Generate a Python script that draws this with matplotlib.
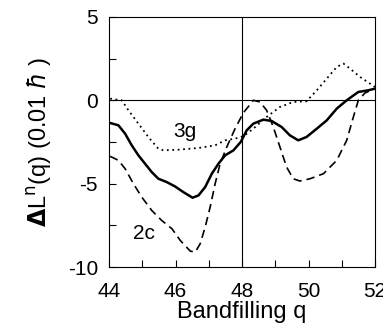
import matplotlib
matplotlib.use("Agg")
import matplotlib.pyplot as plt
from matplotlib.ticker import MultipleLocator

plt.rcParams['font.family'] = ['Liberation Sans', 'DejaVu Sans']
plt.rcParams['axes.unicode_minus'] = False

# solid curve (total)
q_solid = [44.03, 44.28, 44.48, 44.68, 44.88, 45.08, 45.28, 45.48, 45.73, 45.98,
           46.23, 46.51, 46.69, 46.89, 47.09, 47.29, 47.49, 47.74, 47.96, 48.14,
           48.34, 48.64, 48.89, 49.19, 49.44, 49.69, 49.94, 50.25, 50.55, 50.85,
           51.15, 51.5, 51.8, 52.0]
dl_solid = [-1.36, -1.5, -2.0, -2.7, -3.3, -3.8, -4.3, -4.7, -4.9, -5.16,
            -5.5, -5.84, -5.7, -5.2, -4.4, -3.8, -3.3, -3.0, -2.5, -1.8,
            -1.4, -1.16, -1.24, -1.6, -2.1, -2.4, -2.2, -1.7, -1.2, -0.5,
            0.0, 0.5, 0.6, 0.7]

# dashed curve (2c)
q_2c = [44.03, 44.28, 44.48, 44.73, 44.98, 45.28, 45.58, 45.89, 46.14, 46.44,
        46.59, 46.74, 46.89, 47.04, 47.19, 47.34, 47.54, 47.79, 48.04, 48.34,
        48.54, 48.74, 48.94, 49.14, 49.34, 49.54, 49.74, 50.05, 50.45, 50.85,
        51.15, 51.35, 51.5, 51.7, 52.0]
dl_2c = [-3.36, -3.6, -4.1, -5.0, -5.8, -6.6, -7.2, -7.7, -8.4, -9.04,
         -9.1, -8.6, -7.6, -6.4, -5.0, -3.8, -2.8, -1.7, -0.75, 0.0,
         -0.1, -0.6, -1.6, -2.8, -4.0, -4.7, -4.84, -4.7, -4.4, -3.6,
         -2.4, -1.0, 0.0, 0.44, 0.7]

# dotted curve (3g)
q_3g = [44.03, 44.38, 44.58, 44.88, 45.18, 45.48, 45.63, 46.08, 46.69, 47.19,
        47.49, 47.79, 48.04, 48.34, 48.74, 49.14, 49.54, 49.94, 50.25, 50.55,
        50.85, 51.05, 51.25, 51.55, 52.0]
dl_3g = [0.1, 0.0, -0.6, -1.4, -2.2, -2.9, -3.0, -2.96, -2.86, -2.7,
         -2.4, -2.3, -2.15, -1.7, -1.0, -0.4, -0.1, -0.06, 0.6, 1.3,
         2.0, 2.2, 1.9, 1.4, 0.8]

fig = plt.figure(figsize=(3.83, 3.31), dpi=100)
ax = fig.add_axes([0.285, 0.193, 0.694, 0.756])

ax.axhline(0, color='black', lw=0.8)
ax.axvline(48, color='black', lw=0.8)

ax.plot(q_solid, dl_solid, color='black', lw=1.8)
ax.plot(q_2c, dl_2c, color='black', lw=1.2, ls=(0, (5, 3)))
ax.plot(q_3g, dl_3g, color='black', lw=1.3, ls=(0, (1, 2)))

ax.text(46.28, -1.9, '3g', fontsize=15, ha='center', va='center')
ax.text(45.05, -8.0, '2c', fontsize=15, ha='center', va='center')

ax.set_xlim(44, 52)
ax.set_ylim(-10, 5)
ax.xaxis.set_major_locator(MultipleLocator(2))
ax.xaxis.set_minor_locator(MultipleLocator(1))
ax.yaxis.set_major_locator(MultipleLocator(5))
ax.yaxis.set_minor_locator(MultipleLocator(2.5))
ax.tick_params(which='both', direction='in', labelsize=15, width=0.8)
ax.tick_params(which='major', length=5, pad=8)
ax.tick_params(axis='x', which='major', pad=11)
ax.tick_params(which='minor', length=5)

ax.set_xlabel('Bandfilling q', fontsize=17, labelpad=0)
ax.set_ylabel(r'$\mathbf{\Delta}$L$^{\rm n}$(q) (0.01 $\hbar$ )', fontsize=17, labelpad=10)

fig.savefig('out.png', dpi=100)
